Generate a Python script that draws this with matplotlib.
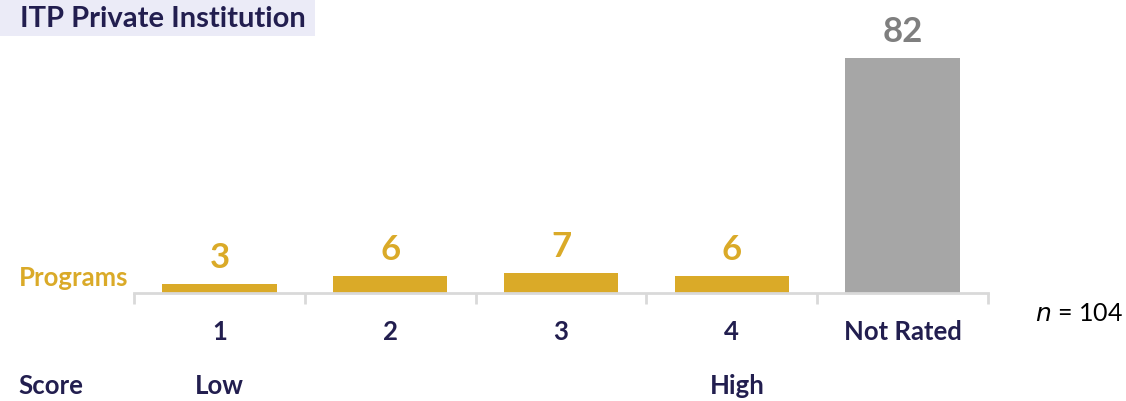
import matplotlib.pyplot as plt
from matplotlib.patches import Rectangle

plt.rcParams['font.family'] = ['Lato', 'DejaVu Sans']

categories = ['1', '2', '3', '4', 'Not Rated']
programs = [3, 6, 7, 6, 82]
bar_colors = ['#DAAA28', '#DAAA28', '#DAAA28', '#DAAA28', '#A6A6A6']
label_colors = ['#DAAA28', '#DAAA28', '#DAAA28', '#DAAA28', '#7F7F7F']
scale_labels = {0: 'Low', 3: 'High'}

navy = '#221E4F'
gold = '#DAAA28'

fig = plt.figure(figsize=(11.26, 4.02), dpi=100)
ax = fig.add_axes([134/1126, 108/402, (988-134)/1126, (294-20)/402])

x = range(len(categories))
ax.bar(x, programs, width=0.67, color=bar_colors)
for i, v in enumerate(programs):
    ax.annotate(str(v), (i, v), xytext=(0, 8), textcoords='offset points',
                ha='center', va='bottom', fontsize=25, fontweight='bold',
                color=label_colors[i])

ax.set_xlim(-0.5, len(categories) - 0.5)
ax.set_ylim(0, 95.6)
for s in ['top', 'right', 'left']:
    ax.spines[s].set_visible(False)
ax.spines['bottom'].set_color('#D9D9D9')
ax.spines['bottom'].set_linewidth(2)
ax.set_yticks([])
ax.set_xticks([i - 0.5 for i in range(len(categories) + 1)])
ax.set_xticklabels([])
ax.tick_params(axis='x', length=8, width=2, color='#D9D9D9')
for i, c in enumerate(categories):
    ax.text(i, -0.14, c, transform=ax.get_xaxis_transform(), ha='center', va='center',
            fontsize=18.5, fontweight='bold', color=navy)
for i, lab in scale_labels.items():
    ax.text(i + 0.03 if i == 3 else i, -0.336, lab, transform=ax.get_xaxis_transform(),
            ha='center', va='center', fontsize=18.5, fontweight='bold', color=navy)

fig.text(18/1126, 1 - 386/402, 'Score', ha='left', va='center', fontsize=18.5,
         fontweight='bold', color=navy)
fig.text(128/1126, 1 - 278/402, 'Programs', ha='right', va='center', fontsize=18.5,
         fontweight='bold', color=gold)
fig.text(1035/1126, 1 - 314/402, r'$n$ = 104', ha='left', va='center', fontsize=18,
         color='black')

fig.patches.append(Rectangle((0, 1 - 37/402), 315/1126, 37/402, transform=fig.transFigure,
                             facecolor='#EBEBF7', edgecolor='none', zorder=0))
fig.text(20/1126, 1 - 19/402, 'ITP Private Institution', ha='left', va='center',
         fontsize=21, fontweight='bold', color=navy)

plt.savefig('out.png', dpi=100)
